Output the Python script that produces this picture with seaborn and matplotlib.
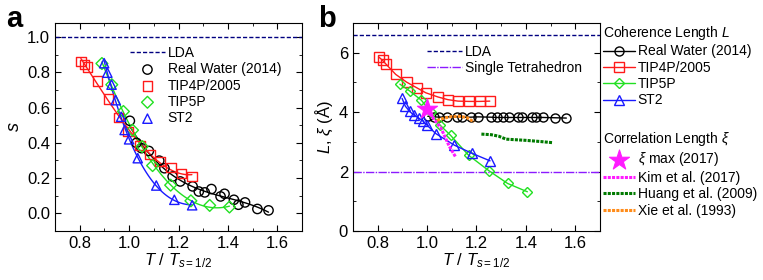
import numpy as np
import seaborn as sns
from matplotlib import pyplot as plt
from matplotlib.ticker import MultipleLocator

# reduced temperature T / T_{s=1/2} for each model
rw_x = [1.003, 1.03, 1.05, 1.08, 1.122, 1.143, 1.176, 1.207, 1.257, 1.282,
        1.306, 1.333, 1.37, 1.386, 1.424, 1.442, 1.469, 1.519, 1.564]
tip4p_x = [0.805, 0.82, 0.832, 0.873, 0.917, 0.958, 0.995, 1.044, 1.084,
           1.125, 1.17, 1.213, 1.254]
tip5p_x = [0.89, 0.93, 0.977, 1.014, 1.053, 1.095, 1.168, 1.25, 1.326, 1.406]
st2_x = [0.899, 0.912, 0.929, 0.946, 0.968, 0.982, 1.0, 1.035, 1.11, 1.183, 1.255]

# panel a: s
rw_s = [0.525, 0.40, 0.37, 0.354, 0.299, 0.256, 0.209, 0.181, 0.153, 0.124,
        0.119, 0.138, 0.096, 0.111, 0.077, 0.049, 0.062, 0.025, 0.017]
tip4p_s = [0.86, 0.845, 0.83, 0.75, 0.648, 0.545, 0.465, 0.385, 0.335,
           0.294, 0.262, 0.228, 0.209]
tip5p_s = [0.85, 0.73, 0.578, 0.472, 0.379, 0.271, 0.16, 0.071, 0.045, 0.036]
st2_s = [0.852, 0.798, 0.73, 0.642, 0.548, 0.473, 0.42, 0.313, 0.158, 0.077, 0.046]
lda_s = 1.0

# panel b: coherence length L (angstrom)
rw_L = [3.86, 3.84, 3.83, 3.84, 3.84, 3.83, 3.83, 3.84, 3.83, 3.82,
        3.82, 3.82, 3.82, 3.82, 3.82, 3.82, 3.82, 3.81, 3.80]
tip4p_L = [5.85, 5.74, 5.63, 5.27, 5.01, 4.82, 4.65, 4.51, 4.42, 4.37, 4.36, 4.36, 4.37]
tip5p_L = [4.94, 4.71, 4.40, 4.01, 3.56, 3.22, 2.55, 2.03, 1.60, 1.32]
st2_L = [4.46, 4.20, 4.03, 3.90, 3.79, 3.71, 3.56, 3.28, 2.89, 2.61, 2.36]
lda_L = 6.6
tetra_L = 2.0

# correlation length xi
ximax_x = [1.0]
ximax_y = [4.1]
kim_x = [1.0, 1.03, 1.057, 1.09, 1.115]
kim_y = [4.06, 3.75, 3.45, 2.85, 2.50]
huang_x = [1.22, 1.26, 1.29, 1.32, 1.40, 1.46, 1.51]
huang_y = [3.26, 3.24, 3.19, 3.09, 3.05, 3.01, 2.97]
xie_x = [1.04, 1.07, 1.10, 1.13, 1.16, 1.19]
xie_y = [3.72, 3.80, 3.85, 3.86, 3.82, 3.67]

names = ['Real Water (2014)', 'TIP4P/2005', 'TIP5P', 'ST2']
colors = ['black', '#ff1a1a', '#22e022', '#1a1aff']
markers = ['o', 's', 'D', '^']
xs = [rw_x, tip4p_x, tip5p_x, st2_x]
s_vals = [rw_s, tip4p_s, tip5p_s, st2_s]
L_vals = [rw_L, tip4p_L, tip5p_L, st2_L]

sns.set_style('ticks')
plt.rcParams['font.family'] = ['Liberation Sans', 'DejaVu Sans']
plt.rcParams.update({
    'mathtext.fontset': 'custom',
    'mathtext.rm': 'Liberation Sans',
    'mathtext.it': 'Liberation Sans:italic',
    'xtick.direction': 'in', 'ytick.direction': 'in',
    'xtick.top': True, 'ytick.right': True,
    'xtick.minor.visible': True, 'ytick.minor.visible': True,
    'xtick.major.size': 4, 'ytick.major.size': 4,
    'xtick.minor.size': 2.5, 'ytick.minor.size': 2.5,
    'axes.edgecolor': 'black', 'text.color': 'black',
    'xtick.color': 'black', 'ytick.color': 'black',
    'axes.labelcolor': 'black',
    'xtick.labelsize': 12, 'ytick.labelsize': 12,
})

fig = plt.figure(figsize=(7.63, 2.8), dpi=100)
ax1 = fig.add_axes([0.072, 0.175, 0.324, 0.743])
ax2 = fig.add_axes([0.4626, 0.175, 0.3237, 0.743])

leg_kw = dict(frameon=False, fontsize=10, handletextpad=0.2, labelspacing=0.17,
              borderpad=0, borderaxespad=0, title_fontsize=10, alignment='left')

# ---- panel a
ax1.axhline(lda_s, color='#000080', ls='--', dashes=(3, 1.5), lw=1, label='LDA')
for name, x, y, m, c in zip(names, xs, s_vals, markers, colors):
    sns.regplot(x=np.array(x), y=np.array(y), order=3, ci=None, scatter=False,
                ax=ax1, line_kws=dict(color=c, lw=1))
    ms = 45 if m != 'D' else 36
    sns.scatterplot(x=x, y=y, marker=m, s=ms, facecolor='none', edgecolor=c,
                    linewidth=1, ax=ax1, label=name, zorder=3)

ax1.set_xlim(0.7, 1.7)
ax1.set_ylim(-0.1, 1.08)
ax1.xaxis.set_major_locator(MultipleLocator(0.2))
ax1.xaxis.set_minor_locator(MultipleLocator(0.1))
ax1.yaxis.set_major_locator(MultipleLocator(0.2))
ax1.yaxis.set_minor_locator(MultipleLocator(0.1))
ax1.set_xlabel(r'$T$ / $T_{s\mathregular{=1/2}}$', fontsize=12, labelpad=0)
ax1.set_ylabel(r'$s$', fontsize=13, labelpad=3)
ax1.legend(loc='upper left', bbox_to_anchor=(0.304, 0.89), handlelength=2.5, **leg_kw)

# ---- panel b
ax2.axhline(lda_L, color='#000080', ls='--', dashes=(3, 1.5), lw=1, label='LDA')
ax2.axhline(tetra_L, color='#8c1aff', lw=1, dashes=(6, 1, 1, 1), label='Single Tetrahedron')
for name, x, y, m, c in zip(names, xs, L_vals, markers, colors):
    sns.lineplot(x=x, y=y, color=c, lw=1, marker=m, ms=6.5 if m != 'D' else 5.5,
                 markerfacecolor='none', markeredgecolor=c, markeredgewidth=1,
                 estimator=None, sort=False, ax=ax2, label=name)

sns.lineplot(x=kim_x, y=kim_y, color='#ff1aff', lw=2.2, dashes=(1, 0.4),
             estimator=None, sort=False, ax=ax2, label='Kim et al. (2017)')
sns.lineplot(x=huang_x, y=huang_y, color='#007a00', lw=2.2, dashes=(1, 0.4),
             estimator=None, sort=False, ax=ax2, label='Huang et al. (2009)')
sns.lineplot(x=xie_x, y=xie_y, color='#ff8c1a', lw=2.2, dashes=(1, 0.4),
             estimator=None, sort=False, ax=ax2, label='Xie et al. (1993)')
sns.scatterplot(x=ximax_x, y=ximax_y, marker='*', s=230, color='#ff1aff',
                edgecolor='#ff1aff', linewidth=0.8, ax=ax2, zorder=5,
                label=r'$\xi$ max (2017)')

ax2.set_xlim(0.7, 1.7)
ax2.set_ylim(0, 7)
ax2.xaxis.set_major_locator(MultipleLocator(0.2))
ax2.xaxis.set_minor_locator(MultipleLocator(0.1))
ax2.yaxis.set_major_locator(MultipleLocator(2))
ax2.yaxis.set_minor_locator(MultipleLocator(1))
ax2.set_xlabel(r'$T$ / $T_{s\mathregular{=1/2}}$', fontsize=12, labelpad=0)
ax2.set_ylabel(r'$L$, $\xi$ ($\mathregular{\AA}$)', fontsize=12, labelpad=3)

handles, labels = ax2.get_legend_handles_labels()
h = dict(zip(labels, handles))
leg_in = ax2.legend([h['LDA'], h['Single Tetrahedron']], ['LDA', 'Single Tetrahedron'],
                    loc='upper left', bbox_to_anchor=(0.30, 0.895), handlelength=2.5, **leg_kw)
ax2.add_artist(leg_in)
leg_L = ax2.legend([h[n] for n in names], names, title='Coherence Length $L$',
                   loc='upper left', bbox_to_anchor=(1.012, 0.995), handlelength=2.3, **leg_kw)
ax2.add_artist(leg_L)
xi_labels = [r'$\xi$ max (2017)', 'Kim et al. (2017)', 'Huang et al. (2009)', 'Xie et al. (1993)']
ax2.legend([h[n] for n in xi_labels], xi_labels, title=r'Correlation Length $\xi$',
           loc='upper left', bbox_to_anchor=(1.012, 0.485), handlelength=2.3, **leg_kw)

fig.text(0.008, 0.904, 'a', fontsize=21, fontweight='bold', va='baseline')
fig.text(0.417, 0.904, 'b', fontsize=21, fontweight='bold', va='baseline')

fig.savefig('out.png', dpi=100)
